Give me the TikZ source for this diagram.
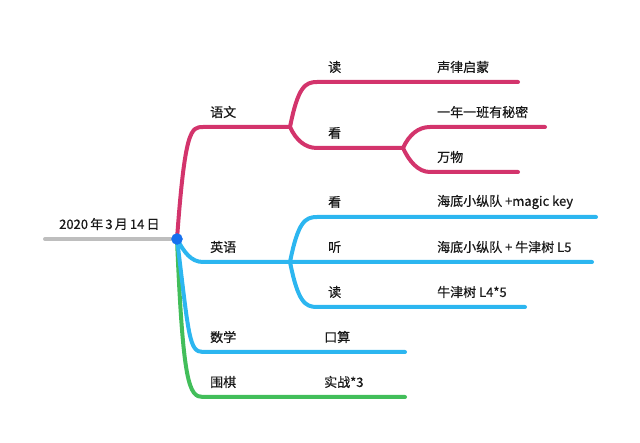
\documentclass[tikz,border=0pt]{standalone}
\usepackage{fontspec}
\setmainfont{Noto Sans CJK SC}[FakeBold=0.6]
\usepackage{tikz}
\usetikzlibrary{positioning,calc}
\definecolor{rosecrimson}{RGB}{211, 52, 108}
\definecolor{skyblue}{RGB}{44, 182, 240}
\definecolor{leafgreen}{RGB}{66, 190, 90}
\definecolor{rootgray}{RGB}{190, 190, 190}
\definecolor{dotblue}{RGB}{22, 112, 238}
\tikzset{
    branch/.style={line width=4pt, line cap=round, line join=round},
    lbl/.style={anchor=west, inner sep=0pt, font=\fontsize{13}{15}\selectfont, text=black!90}
}

\begin{document}
\begin{tikzpicture}[x=1pt, y=-1pt]
    \useasboundingbox (0,0) rectangle (640,443);
    % root
    \coordinate (start) at (45,239);
    \coordinate (root) at (177,239);
    \draw[branch,rootgray] (start) -- (root);
    \node[lbl] (date) at (59,224) {2020\,年\,3\,月\,14\,日};
    % corners and forks
    \coordinate (yuwen) at (203,127);   \coordinate (yuwenfork) at (290,127);
    \coordinate (yuwendu) at (317,82);  \coordinate (yuwendue) at (518,82);
    \coordinate (yuwenkan) at (317,148); \coordinate (kanfork) at (403,148);
    \coordinate (mimi) at (430,127);    \coordinate (mimie) at (545,127);
    \coordinate (wanwu) at (430,172);   \coordinate (wanwue) at (518,172);
    \coordinate (yingyu) at (203,262);  \coordinate (yingyufork) at (290,262);
    \coordinate (yykan) at (317,217);   \coordinate (yykane) at (596,217);
    \coordinate (yytinge) at (592,262);
    \coordinate (yydu) at (317,307);    \coordinate (yydue) at (525,307);
    \coordinate (shuxue) at (203,352);  \coordinate (shuxuee) at (405,352);
    \coordinate (weiqi) at (203,397);   \coordinate (weiqie) at (405,397);
    % branches
    \draw[branch,leafgreen] (root) .. controls +(6,145) and +(-14,0) .. (weiqi) -- (weiqie);
    \draw[branch,skyblue] (root) .. controls +(12,98) and +(-14,0) .. (shuxue) -- (shuxuee);
    \draw[branch,skyblue] (root) .. controls +(7,13) and +(-12,0) .. (yingyu) -- (yingyufork) -- (yytinge);
    \draw[branch,skyblue] (yingyufork) .. controls +(8,-40) and +(-12,0) .. (yykan) -- (yykane);
    \draw[branch,skyblue] (yingyufork) .. controls +(8,40) and +(-12,0) .. (yydu) -- (yydue);
    \draw[branch,rosecrimson] (root) .. controls +(8,-110) and +(-12,0) .. (yuwen) -- (yuwenfork);
    \draw[branch,rosecrimson] (yuwenfork) .. controls +(8,-40) and +(-12,0) .. (yuwendu) -- (yuwendue);
    \draw[branch,rosecrimson] (yuwenfork) .. controls +(6,13) and +(-12,0) .. (yuwenkan) -- (kanfork);
    \draw[branch,rosecrimson] (kanfork) .. controls +(6,-13) and +(-12,0) .. (mimi) -- (mimie);
    \draw[branch,rosecrimson] (kanfork) .. controls +(6,13) and +(-12,0) .. (wanwu) -- (wanwue);
    \filldraw[dotblue] (root) circle (5.5);
    % labels
    \node[lbl] (yw) at (210,112) {语文};
    \node[lbl] (ywdu) at (328,67) {读};
    \node[lbl] (shenglv) at (437,67) {声律启蒙};
    \node[lbl] (ywkan) at (328,133) {看};
    \node[lbl] (yinian) at (437,112) {一年一班有秘密};
    \node[lbl] (ww) at (437,157) {万物};
    \node[lbl] (yy) at (210,247) {英语};
    \node[lbl] (yyk) at (328,202) {看};
    \node[lbl] (magic) at (437,202) {海底小纵队 +magic key};
    \node[lbl] (yyt) at (328,247) {听};
    \node[lbl] (niujin) at (437,247) {海底小纵队 + 牛津树 L5};
    \node[lbl] (yyd) at (328,292) {读};
    \node[lbl] (lfour) at (437,292) {牛津树 L4*5};
    \node[lbl] (sx) at (210,337) {数学};
    \node[lbl] (kousuan) at (324,337) {口算};
    \node[lbl] (wq) at (210,382) {围棋};
    \node[lbl] (shizhan) at (324,382) {实战*3};
\end{tikzpicture}
\end{document}
